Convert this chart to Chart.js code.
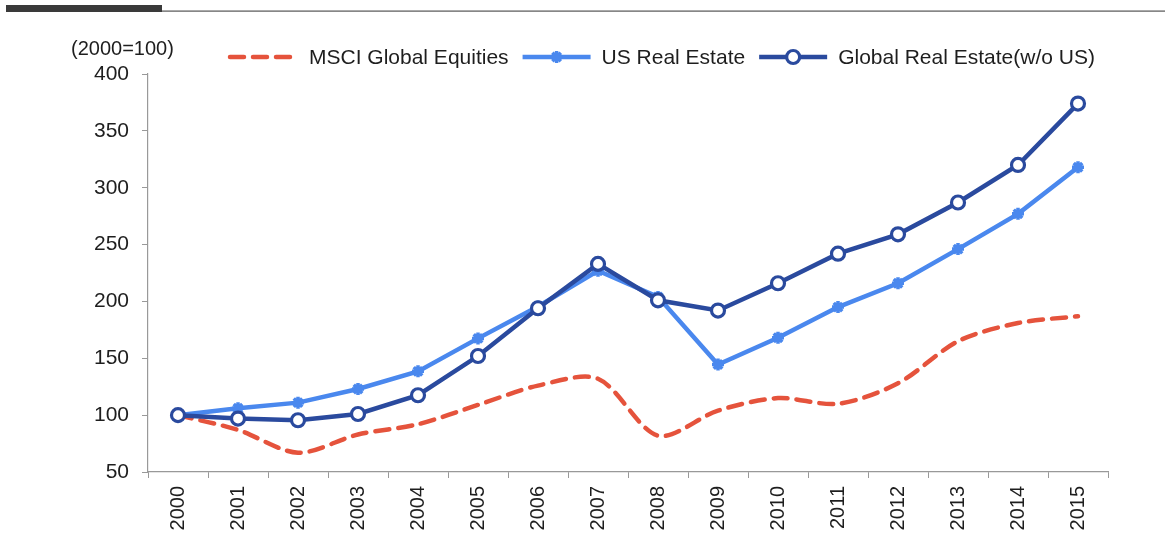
<!DOCTYPE html>
<html><head><meta charset="utf-8">
<script src="https://cdn.jsdelivr.net/npm/chart.js@4/dist/chart.umd.min.js"></script>
<style>html,body{margin:0;padding:0;background:#fff}#wrap{width:1165px;height:536px;position:relative}</style>
</head><body><div id="wrap"><canvas id="c" width="1165" height="536"></canvas></div>
<script>
const years = ['2000','2001','2002','2003','2004','2005','2006','2007','2008','2009','2010','2011','2012','2013','2014','2015'];
const msciGlobal = [100, 87, 67, 83, 92, 109, 126, 132, 82, 104, 115, 110, 128, 165, 181, 187];
const usRealEstate = [100, 106, 111, 123, 138.5, 167.5, 195.5, 227, 204, 144.5, 168, 195, 216, 246, 277, 318];
const globalRealEstate = [100, 97, 95.5, 101, 117.5, 152, 194, 233, 201, 192, 216, 242, 259, 287, 320, 374];
const yTicks = [50, 100, 150, 200, 250, 300, 350, 400];
const unitLabel = '(2000=100)';

const RED = '#E5533C', LBLUE = '#4A88EE', DBLUE = '#2A4A9E';
const FONT = '"Liberation Sans", Arial, sans-serif';

const decor = {
  id: 'decor',
  afterDraw(chart) {
    const ctx = chart.ctx;
    ctx.save();
    // top rule
    ctx.fillStyle = '#3a3a3a';
    ctx.fillRect(6, 5, 156, 7);
    ctx.fillStyle = '#555';
    ctx.fillRect(162, 10.5, 1003, 1.2);
    // unit label
    ctx.font = '20px ' + FONT;
    ctx.fillStyle = '#1e1e1e';
    ctx.textBaseline = 'middle';
    ctx.textAlign = 'left';
    ctx.fillText(unitLabel, 71, 49);
    // legend
    ctx.font = '21px ' + FONT;
    const y = 57;
    let x = 230;
    chart.data.datasets.forEach((ds, i) => {
      ctx.strokeStyle = ds.borderColor;
      ctx.lineWidth = 4.5;
      ctx.lineCap = i === 0 ? 'round' : 'butt';
      ctx.setLineDash(ds.borderDash || []);
      ctx.beginPath();
      ctx.moveTo(x, y); ctx.lineTo(x + 68, y); ctx.stroke();
      ctx.setLineDash([]);
      if (ds.pointStyle && ds.pointRadius > 0) {
        ctx.fillStyle = ds.pointBackgroundColor; ctx.strokeStyle = ds.pointBorderColor; ctx.lineWidth = ds.pointBorderWidth;
        Chart.helpers.drawPoint(ctx, {pointStyle: ds.pointStyle, radius: ds.pointRadius, borderWidth: ds.pointBorderWidth, rotation: 0}, x + 34, y);
      }
      ctx.fillStyle = '#1e1e1e';
      ctx.fillText(ds.label, x + 79, y + 1);
      x += 79 + ctx.measureText(ds.label).width + 14;
    });
    ctx.restore();
  }
};

new Chart(document.getElementById('c'), {
  type: 'line',
  data: {
    labels: years,
    datasets: [
      { label: 'MSCI Global Equities', data: msciGlobal, borderColor: RED, backgroundColor: RED, order: 3,
        borderWidth: 4.5, borderDash: [14, 9], tension: 0.3, pointRadius: 0, pointHoverRadius: 0, borderCapStyle: 'round' },
      { label: 'US Real Estate', data: usRealEstate, borderColor: LBLUE, backgroundColor: LBLUE, order: 2,
        borderWidth: 4.5, tension: 0, pointStyle: 'star', pointRadius: 6, pointBorderWidth: 3.5,
        pointBorderColor: LBLUE, pointBackgroundColor: LBLUE },
      { label: 'Global Real Estate(w/o US)', data: globalRealEstate, borderColor: DBLUE, backgroundColor: DBLUE, order: 1,
        borderWidth: 4.5, tension: 0, pointStyle: 'circle', pointRadius: 6.5, pointBorderWidth: 3.2,
        pointBorderColor: DBLUE, pointBackgroundColor: '#fff' }
    ]
  },
  options: {
    responsive: false,
    animation: false,
    devicePixelRatio: 1,
    layout: { padding: { top: 74, right: 57, left: 0, bottom: 0 } },
    plugins: { legend: { display: false }, title: { display: false }, tooltip: { enabled: false } },
    scales: {
      x: {
        offset: true,
        grid: { offset: true, drawOnChartArea: false, drawTicks: true, tickLength: 6, color: '#999' },
        border: { color: '#999', width: 1.2 },
        ticks: { color: '#1e1e1e', font: { size: 20, family: FONT }, maxRotation: 90, minRotation: 90, padding: 8, autoSkip: false },
        afterFit(s) { s.height = 64; }
      },
      y: {
        min: 50, max: 400,
        afterBuildTicks(s) { s.ticks = yTicks.map(v => ({ value: v })); },
        grid: { drawOnChartArea: false, drawTicks: true, tickLength: 6, color: '#999' },
        border: { color: '#999', width: 1.2 },
        ticks: { color: '#1e1e1e', font: { size: 21, family: FONT }, padding: 13 },
        afterFit(s) { s.width = 148; }
      }
    }
  },
  plugins: [decor]
});
</script></body></html>
